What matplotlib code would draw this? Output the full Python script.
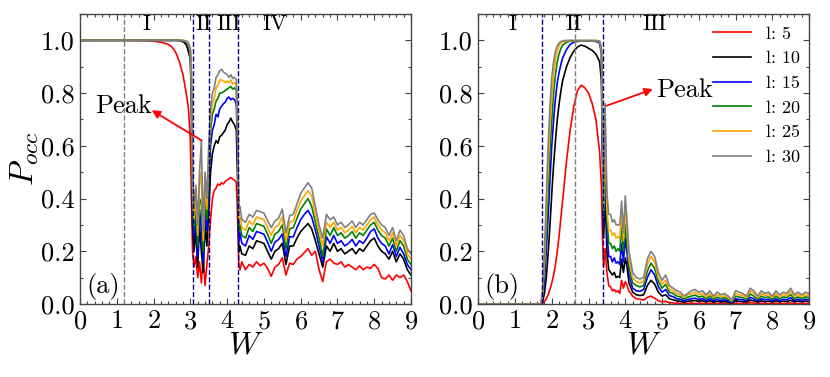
import numpy as np
import matplotlib
matplotlib.use("Agg")
import matplotlib.pyplot as plt
from matplotlib.ticker import MultipleLocator

plt.rcParams['font.family'] = 'cmr10'
plt.rcParams['mathtext.fontset'] = 'cm'
plt.rcParams['axes.formatter.use_mathtext'] = True

labels = ['l: 5', 'l: 10', 'l: 15', 'l: 20', 'l: 25', 'l: 30']
colors = ['red', 'black', 'blue', 'green', 'orange', 'gray']

# ---------------- panel (a) ----------------
Wa_head = [0.0, 0.5, 1.0, 1.5, 1.8, 2.0, 2.2, 2.4, 2.5, 2.6, 2.7, 2.8, 2.85, 2.9, 2.95,
           3.0, 3.03, 3.06, 3.1, 3.15, 3.2, 3.25, 3.3, 3.35, 3.4, 3.45, 3.5, 3.55, 3.6,
           3.65, 3.7, 3.75, 3.8, 3.85, 3.9, 3.95, 4.0, 4.05, 4.1, 4.15, 4.2, 4.25, 4.28,
           4.32, 4.35, 4.4]
Wa_tail = [4.5, 4.6, 4.7, 4.8, 4.9, 5.0, 5.1, 5.2, 5.3, 5.4, 5.5, 5.6, 5.7, 5.8, 5.9,
           6.0, 6.1, 6.2, 6.3, 6.4, 6.5, 6.6, 6.7, 6.8, 6.9, 7.0, 7.1, 7.2, 7.3, 7.4,
           7.5, 7.6, 7.7, 7.8, 7.9, 8.0, 8.1, 8.2, 8.3, 8.4, 8.5, 8.6, 8.7, 8.8, 8.9, 9.0]
W_a = Wa_head + Wa_tail

a_l5 = [1, 1, 1, 1, 0.999, 0.997, 0.993, 0.985, 0.975, 0.955, 0.92, 0.87, 0.83, 0.79, 0.74,
        0.62, 0.40, 0.20, 0.14, 0.18, 0.10, 0.16, 0.08, 0.18, 0.07, 0.15, 0.22, 0.32, 0.40,
        0.43, 0.44, 0.455, 0.45, 0.46, 0.455, 0.465, 0.47, 0.475, 0.48, 0.475, 0.47, 0.46, 0.35,
        0.15, 0.13, 0.16,
        0.13, 0.15, 0.14, 0.16, 0.145, 0.155, 0.135, 0.105, 0.14, 0.15, 0.175, 0.11, 0.155, 0.15, 0.17,
        0.18, 0.195, 0.21, 0.185, 0.2, 0.13, 0.085, 0.16, 0.17, 0.155, 0.15, 0.16, 0.14, 0.15, 0.14,
        0.13, 0.145, 0.13, 0.14, 0.135, 0.15, 0.135, 0.10, 0.095, 0.11, 0.09, 0.11, 0.10, 0.11, 0.085, 0.05]
a_l10 = [1, 1, 1, 1, 1, 1, 1, 1, 1, 1, 0.999, 0.995, 0.99, 0.98, 0.955,
         0.93, 0.75, 0.30, 0.20, 0.28, 0.14, 0.30, 0.20, 0.12, 0.30, 0.22, 0.35, 0.50, 0.57,
         0.60, 0.62, 0.61, 0.635, 0.64, 0.65, 0.66, 0.68, 0.69, 0.705, 0.69, 0.68, 0.66, 0.50,
         0.20, 0.22, 0.19,
         0.185, 0.22, 0.21, 0.24, 0.235, 0.23, 0.20, 0.17, 0.20, 0.21, 0.23, 0.15, 0.22, 0.22, 0.25,
         0.275, 0.29, 0.305, 0.285, 0.24, 0.19, 0.14, 0.22, 0.20, 0.23, 0.20, 0.21, 0.19, 0.20, 0.21,
         0.19, 0.21, 0.20, 0.22, 0.24, 0.25, 0.22, 0.20, 0.19, 0.17, 0.20, 0.16, 0.19, 0.17, 0.13, 0.11]
a_l15 = [1, 1, 1, 1, 1, 1, 1, 1, 1, 1, 1.0, 0.998, 0.995, 0.99, 0.975,
         0.95, 0.80, 0.35, 0.25, 0.33, 0.18, 0.36, 0.28, 0.16, 0.36, 0.28, 0.45, 0.60, 0.66,
         0.68, 0.72, 0.71, 0.74, 0.75, 0.76, 0.765, 0.78, 0.785, 0.775, 0.78, 0.775, 0.76, 0.60,
         0.24, 0.27, 0.23,
         0.22, 0.26, 0.245, 0.275, 0.27, 0.265, 0.235, 0.20, 0.235, 0.245, 0.265, 0.18, 0.255, 0.255, 0.29,
         0.32, 0.34, 0.355, 0.33, 0.28, 0.22, 0.16, 0.255, 0.23, 0.26, 0.23, 0.24, 0.22, 0.23, 0.245,
         0.22, 0.24, 0.23, 0.25, 0.275, 0.285, 0.25, 0.23, 0.22, 0.19, 0.225, 0.18, 0.215, 0.19, 0.15, 0.13]
a_l20 = [1, 1, 1, 1, 1, 1, 1, 1, 1, 1, 1.0, 0.999, 0.997, 0.993, 0.98,
         0.96, 0.82, 0.40, 0.28, 0.38, 0.22, 0.40, 0.38, 0.20, 0.40, 0.32, 0.50, 0.66, 0.72,
         0.74, 0.77, 0.78, 0.80, 0.80, 0.805, 0.81, 0.815, 0.82, 0.825, 0.815, 0.82, 0.81, 0.65,
         0.28, 0.30, 0.26,
         0.25, 0.29, 0.275, 0.305, 0.30, 0.295, 0.265, 0.23, 0.265, 0.275, 0.30, 0.21, 0.285, 0.29, 0.325,
         0.36, 0.38, 0.40, 0.37, 0.31, 0.25, 0.18, 0.285, 0.26, 0.29, 0.26, 0.27, 0.25, 0.26, 0.275,
         0.25, 0.27, 0.26, 0.28, 0.30, 0.31, 0.28, 0.26, 0.25, 0.22, 0.25, 0.20, 0.24, 0.22, 0.17, 0.15]
a_l25 = [1, 1, 1, 1, 1, 1, 1, 1, 1, 1, 1.0, 1.0, 0.998, 0.995, 0.985,
         0.965, 0.85, 0.45, 0.32, 0.42, 0.26, 0.45, 0.50, 0.24, 0.45, 0.36, 0.55, 0.70, 0.76,
         0.78, 0.82, 0.83, 0.85, 0.85, 0.845, 0.84, 0.845, 0.84, 0.85, 0.835, 0.84, 0.83, 0.68,
         0.32, 0.33, 0.29,
         0.28, 0.315, 0.30, 0.33, 0.325, 0.32, 0.29, 0.26, 0.29, 0.30, 0.33, 0.24, 0.31, 0.315, 0.355,
         0.39, 0.41, 0.43, 0.41, 0.34, 0.28, 0.22, 0.31, 0.29, 0.31, 0.28, 0.29, 0.27, 0.28, 0.295,
         0.27, 0.29, 0.28, 0.30, 0.32, 0.33, 0.30, 0.28, 0.27, 0.24, 0.27, 0.22, 0.26, 0.24, 0.19, 0.17]
a_l30 = [1, 1, 1, 1, 1, 1, 1, 1, 1, 1, 1.0, 1.0, 0.999, 0.997, 0.99,
         0.97, 0.88, 0.50, 0.36, 0.45, 0.30, 0.50, 0.62, 0.28, 0.50, 0.40, 0.60, 0.74, 0.80,
         0.82, 0.86, 0.87, 0.885, 0.89, 0.88, 0.875, 0.87, 0.86, 0.87, 0.855, 0.86, 0.85, 0.72,
         0.36, 0.37, 0.32,
         0.31, 0.34, 0.33, 0.355, 0.35, 0.345, 0.315, 0.29, 0.315, 0.325, 0.36, 0.27, 0.335, 0.34, 0.38,
         0.42, 0.44, 0.46, 0.44, 0.37, 0.30, 0.25, 0.34, 0.32, 0.33, 0.30, 0.31, 0.29, 0.30, 0.315,
         0.29, 0.31, 0.30, 0.32, 0.34, 0.345, 0.32, 0.30, 0.29, 0.26, 0.29, 0.24, 0.28, 0.26, 0.21, 0.19]

# ---------------- panel (b) ----------------
Wb_head = [0.0, 0.5, 1.0, 1.5, 1.6, 1.7, 1.75, 1.8, 1.85, 1.9, 1.95, 2.0, 2.05, 2.1, 2.15,
           2.2, 2.25, 2.3, 2.4, 2.5, 2.6, 2.7, 2.8, 2.9, 3.0, 3.1, 3.2, 3.3, 3.35, 3.38,
           3.41, 3.45, 3.5, 3.55, 3.6, 3.65, 3.7, 3.75, 3.8, 3.85, 3.9, 3.95, 4.0, 4.05]
Wb_tail = [4.1, 4.2, 4.3, 4.4, 4.5, 4.6, 4.7, 4.8, 4.9, 5.0, 5.1, 5.2, 5.3, 5.4, 5.5,
           5.6, 5.7, 5.8, 5.9, 6.0, 6.1, 6.2, 6.3, 6.4, 6.5, 6.6, 6.7, 6.8, 6.9, 7.0,
           7.1, 7.2, 7.3, 7.4, 7.5, 7.6, 7.7, 7.8, 7.9, 8.0, 8.1, 8.2, 8.3, 8.4, 8.5,
           8.6, 8.7, 8.8, 8.9, 9.0]
W_b = Wb_head + Wb_tail

b_l5 = [0, 0, 0, 0, 0, 0, 0.003, 0.01, 0.02, 0.035, 0.055, 0.08, 0.11, 0.15, 0.20,
        0.26, 0.33, 0.40, 0.54, 0.66, 0.75, 0.81, 0.83, 0.82, 0.80, 0.76, 0.70, 0.58, 0.45, 0.25,
        0.14, 0.21, 0.12, 0.07, 0.065, 0.05, 0.055, 0.045, 0.05, 0.04, 0.09, 0.06, 0.085, 0.07,
        0.05, 0.03, 0.02, 0.018, 0.015, 0.025, 0.03, 0.022, 0.012, 0.008, 0.01, 0.005, 0.004, 0.003, 0.002,
        0.001, 0.002, 0.003, 0.002, 0.002, 0.003, 0.001, 0.003, 0.001, 0.002, 0.002, 0.002, 0.001, 0.0, 0.003,
        0.002, 0.002, 0.001, 0.006, 0.003, 0.001, 0.003, 0.002, 0.002, 0.001, 0.003, 0.001, 0.002, 0.002, 0.004,
        0.001, 0.002, 0.001, 0.002, 0.002]
b_l10 = [0, 0, 0, 0, 0, 0, 0.01, 0.04, 0.10, 0.19, 0.30, 0.42, 0.53, 0.62, 0.70,
         0.76, 0.81, 0.85, 0.90, 0.935, 0.96, 0.975, 0.982, 0.978, 0.97, 0.962, 0.948, 0.92, 0.85, 0.55,
         0.25, 0.42, 0.20, 0.13, 0.12, 0.11, 0.12, 0.10, 0.105, 0.10, 0.17, 0.12, 0.175, 0.14,
         0.08, 0.045, 0.035, 0.032, 0.035, 0.07, 0.09, 0.075, 0.045, 0.03, 0.035, 0.02, 0.016, 0.012, 0.01,
         0.007, 0.01, 0.012, 0.013, 0.01, 0.012, 0.008, 0.012, 0.007, 0.01, 0.008, 0.009, 0.007, 0.003, 0.012,
         0.01, 0.009, 0.007, 0.015, 0.012, 0.007, 0.012, 0.009, 0.011, 0.007, 0.012, 0.008, 0.011, 0.009, 0.014,
         0.008, 0.011, 0.008, 0.011, 0.009]
b_l15 = [0, 0, 0, 0, 0, 0, 0.02, 0.08, 0.20, 0.33, 0.47, 0.60, 0.70, 0.78, 0.84,
         0.88, 0.91, 0.935, 0.965, 0.985, 0.993, 0.996, 0.997, 0.997, 0.997, 0.997, 0.996, 0.99, 0.95, 0.60,
         0.30, 0.55, 0.27, 0.18, 0.18, 0.16, 0.175, 0.155, 0.16, 0.15, 0.23, 0.16, 0.25, 0.19,
         0.11, 0.06, 0.05, 0.048, 0.055, 0.10, 0.13, 0.11, 0.065, 0.045, 0.055, 0.032, 0.028, 0.02, 0.018,
         0.012, 0.017, 0.02, 0.022, 0.017, 0.02, 0.013, 0.02, 0.012, 0.017, 0.013, 0.016, 0.012, 0.005, 0.02,
         0.017, 0.016, 0.012, 0.025, 0.02, 0.012, 0.02, 0.016, 0.018, 0.012, 0.02, 0.013, 0.018, 0.016, 0.024,
         0.013, 0.018, 0.013, 0.018, 0.016]
b_l20 = [0, 0, 0, 0, 0, 0, 0.03, 0.12, 0.27, 0.43, 0.58, 0.70, 0.80, 0.87, 0.92,
         0.95, 0.97, 0.983, 0.993, 0.997, 0.998, 0.998, 0.998, 0.998, 0.998, 0.998, 0.998, 0.995, 0.96, 0.65,
         0.33, 0.63, 0.32, 0.23, 0.23, 0.21, 0.22, 0.20, 0.21, 0.20, 0.30, 0.20, 0.30, 0.23,
         0.14, 0.08, 0.07, 0.065, 0.07, 0.125, 0.155, 0.135, 0.085, 0.06, 0.075, 0.045, 0.04, 0.03, 0.027,
         0.018, 0.026, 0.03, 0.034, 0.026, 0.03, 0.02, 0.03, 0.018, 0.026, 0.02, 0.024, 0.018, 0.008, 0.03,
         0.026, 0.024, 0.018, 0.038, 0.03, 0.018, 0.03, 0.024, 0.027, 0.018, 0.03, 0.02, 0.027, 0.024, 0.036,
         0.02, 0.027, 0.02, 0.027, 0.024]
b_l25 = [0, 0, 0, 0, 0, 0, 0.04, 0.16, 0.34, 0.52, 0.67, 0.79, 0.87, 0.93, 0.96,
         0.98, 0.99, 0.995, 0.998, 0.999, 0.999, 0.999, 0.999, 0.999, 0.999, 0.999, 0.999, 0.997, 0.97, 0.68,
         0.36, 0.70, 0.36, 0.28, 0.28, 0.26, 0.27, 0.25, 0.255, 0.25, 0.35, 0.24, 0.36, 0.27,
         0.17, 0.10, 0.085, 0.08, 0.085, 0.15, 0.18, 0.16, 0.10, 0.075, 0.09, 0.055, 0.05, 0.04, 0.035,
         0.025, 0.035, 0.04, 0.045, 0.035, 0.04, 0.028, 0.04, 0.025, 0.035, 0.028, 0.032, 0.024, 0.012, 0.04,
         0.035, 0.032, 0.024, 0.05, 0.04, 0.024, 0.04, 0.032, 0.036, 0.024, 0.04, 0.028, 0.036, 0.032, 0.048,
         0.028, 0.036, 0.028, 0.036, 0.032]
b_l30 = [0, 0, 0, 0, 0, 0, 0.05, 0.20, 0.40, 0.60, 0.75, 0.86, 0.92, 0.96, 0.98,
         0.99, 0.996, 0.998, 1.0, 1.0, 1.0, 1.0, 1.0, 1.0, 1.0, 1.0, 1.0, 0.998, 0.975, 0.70,
         0.40, 0.76, 0.42, 0.34, 0.34, 0.31, 0.32, 0.30, 0.30, 0.30, 0.39, 0.27, 0.41, 0.31,
         0.20, 0.12, 0.10, 0.095, 0.10, 0.17, 0.20, 0.18, 0.12, 0.09, 0.11, 0.07, 0.06, 0.05, 0.045,
         0.03, 0.04, 0.05, 0.055, 0.045, 0.05, 0.035, 0.05, 0.03, 0.045, 0.035, 0.04, 0.03, 0.015, 0.05,
         0.045, 0.04, 0.03, 0.06, 0.05, 0.03, 0.05, 0.04, 0.045, 0.03, 0.05, 0.035, 0.045, 0.04, 0.06,
         0.035, 0.045, 0.035, 0.045, 0.04]

series_a = [a_l5, a_l10, a_l15, a_l20, a_l25, a_l30]
series_b = [b_l5, b_l10, b_l15, b_l20, b_l25, b_l30]

fig = plt.figure(figsize=(8.3, 3.77), dpi=100)
axA = fig.add_axes([80/830, 73/377, 331/830, 290/377])
axB = fig.add_axes([478.3/830, 73/377, 330.7/830, 290/377])

frame_col = '#444444'
for ax in (axA, axB):
    ax.set_xlim(0, 9)
    ax.set_ylim(0, 1.1)
    ax.xaxis.set_major_locator(MultipleLocator(1))
    ax.xaxis.set_minor_locator(MultipleLocator(0.2))
    ax.yaxis.set_major_locator(MultipleLocator(0.2))
    ax.yaxis.set_minor_locator(MultipleLocator(0.1))
    ax.yaxis.set_major_formatter(matplotlib.ticker.FormatStrFormatter('%.1f'))
    ax.tick_params(which='both', direction='in', top=True, right=True, colors=frame_col,
                   labelcolor='black', labelsize=19, width=0.8)
    ax.tick_params(which='major', length=4, pad=4)
    ax.tick_params(which='minor', length=2)
    for s in ax.spines.values():
        s.set_color(frame_col)
        s.set_linewidth(1.0)
    ax.set_xlabel('$W$', fontsize=23, labelpad=-1)

axA.set_ylabel('$P_{occ}$', fontsize=24, labelpad=0)

for ys, c, lab in zip(series_a, colors, labels):
    axA.plot(W_a, ys, color=c, lw=1.2, label=lab)
for ys, c, lab in zip(series_b, colors, labels):
    axB.plot(W_b, ys, color=c, lw=1.2, label=lab)

# boundaries
axA.axvline(1.2, color='gray', ls='--', lw=1.0)
for xv in (3.06, 3.51, 4.30):
    axA.axvline(xv, color='navy', ls='--', lw=1.0)
axB.axvline(2.64, color='gray', ls='--', lw=1.0)
for xv in (1.72, 3.40):
    axB.axvline(xv, color='navy', ls='--', lw=1.0)

# region labels
for x, t in [(1.81, 'I'), (3.35, 'II'), (4.03, 'III'), (5.3, 'IV')]:
    axA.text(x, 1.06, t, ha='center', va='center', fontsize=16)
for x, t in [(0.94, 'I'), (2.6, 'II'), (4.81, 'III')]:
    axB.text(x, 1.06, t, ha='center', va='center', fontsize=16)

axA.text(0.63, 0.066, '(a)', ha='center', va='center', fontsize=19)
axB.text(0.64, 0.066, '(b)', ha='center', va='center', fontsize=19)

# Peak annotations
arrow = dict(arrowstyle='-|>', color='red', lw=1.3, mutation_scale=12, shrinkA=0, shrinkB=0)
axA.annotate('', xy=(1.95, 0.735), xytext=(3.31, 0.62), arrowprops=arrow)
axA.text(1.17, 0.75, 'Peak', ha='center', va='center', fontsize=19)
axB.annotate('', xy=(4.75, 0.815), xytext=(3.49, 0.752), arrowprops=arrow)
axB.text(4.84, 0.81, 'Peak', ha='left', va='center', fontsize=19)

axB.legend(loc='upper left', bbox_to_anchor=((713 - 478.3) / 330.7, (304 - 26) / 290),
           frameon=False, fontsize=13, handlelength=2.1, handletextpad=0.85,
           labelspacing=0.5, borderpad=0, borderaxespad=0)

fig.savefig('out.png', dpi=100)
